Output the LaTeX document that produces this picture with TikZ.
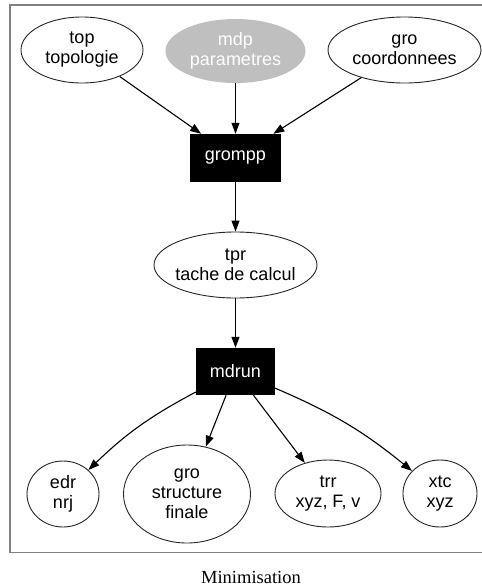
\documentclass[tikz,border=0pt]{standalone}
\usepackage{fontspec}
\setmainfont{Liberation Sans}
\newfontfamily\captionserif{Liberation Serif}
\usetikzlibrary{shapes.geometric,arrows.meta}
\begin{document}
\begin{tikzpicture}[x=1pt,y=-1pt,
  txt/.style={font=\fontsize{18}{20}\selectfont,align=center,inner sep=0pt},
  ell/.style={ellipse,draw=black!85,line width=0.9pt,inner sep=0pt},
  greyell/.style={ellipse,fill=black!25,draw=none,inner sep=0pt},
  prog/.style={rectangle,fill=black,draw=none,inner sep=0pt,
    font=\fontsize{18}{20}\selectfont,text=white},
  flow/.style={draw=black,line width=1.1pt,
    -{Triangle[length=11pt,width=8pt]}}]
  \useasboundingbox (0,0) rectangle (482,587);
  % frame
  \draw[black!50,line width=1.6pt] (490,5) -- (10,5) -- (10,552.5) -- (490,552.5);

  % inputs
  \node[ell,minimum width=122,minimum height=66,
    label={[txt]center:{top\\topologie}}] (top) at (82,50) {};
  \node[greyell,minimum width=140,minimum height=64,
    label={[txt,text=white]center:{mdp\\parametres}}] (mdp) at (235.5,51) {};
  \node[ell,minimum width=153,minimum height=66,
    label={[txt]center:{gro\\coordonnees}}] (gro) at (404.5,50) {};

  % preprocessing
  \node[prog,minimum width=91,minimum height=48] (grompp) at (235.5,158) {grompp};

  \node[ell,minimum width=163,minimum height=66,
    label={[txt]center:{tpr\\tache de calcul}}] (tpr) at (235.5,265) {};

  \node[prog,minimum width=79,minimum height=47] (mdrun) at (235.5,371.5) {mdrun};

  % outputs
  \node[ell,minimum width=72,minimum height=66,
    label={[txt]center:{edr\\nrj}}] (edr) at (63,494) {};
  \node[ell,minimum width=127,minimum height=98,
    label={[txt]center:{gro\\structure\\finale}}] (groout) at (187,494) {};
  \node[ell,minimum width=106,minimum height=67,
    label={[txt]center:{trr\\xyz, F, v}}] (trr) at (328,493.5) {};
  \node[ell,minimum width=74,minimum height=67,
    label={[txt]center:{xtc\\xyz}}] (xtc) at (440,493.5) {};

  % connectors
  \draw[flow] (top) -- (grompp);
  \draw[flow] (mdp) -- (grompp);
  \draw[flow] (gro) -- (grompp);
  \draw[flow] (grompp) -- (tpr);
  \draw[flow] (tpr) -- (mdrun);
  \draw[flow] (mdrun) to[bend right=8] (edr);
  \draw[flow] (mdrun) -- (groout);
  \draw[flow] (mdrun) -- (trr);
  \draw[flow] (mdrun) to[bend left=8] (xtc);

  % caption
  \node[font=\captionserif\fontsize{18.5}{20}\selectfont,inner sep=0pt,anchor=base]
    (cap) at (251,583) {Minimisation};
\end{tikzpicture}
\end{document}
